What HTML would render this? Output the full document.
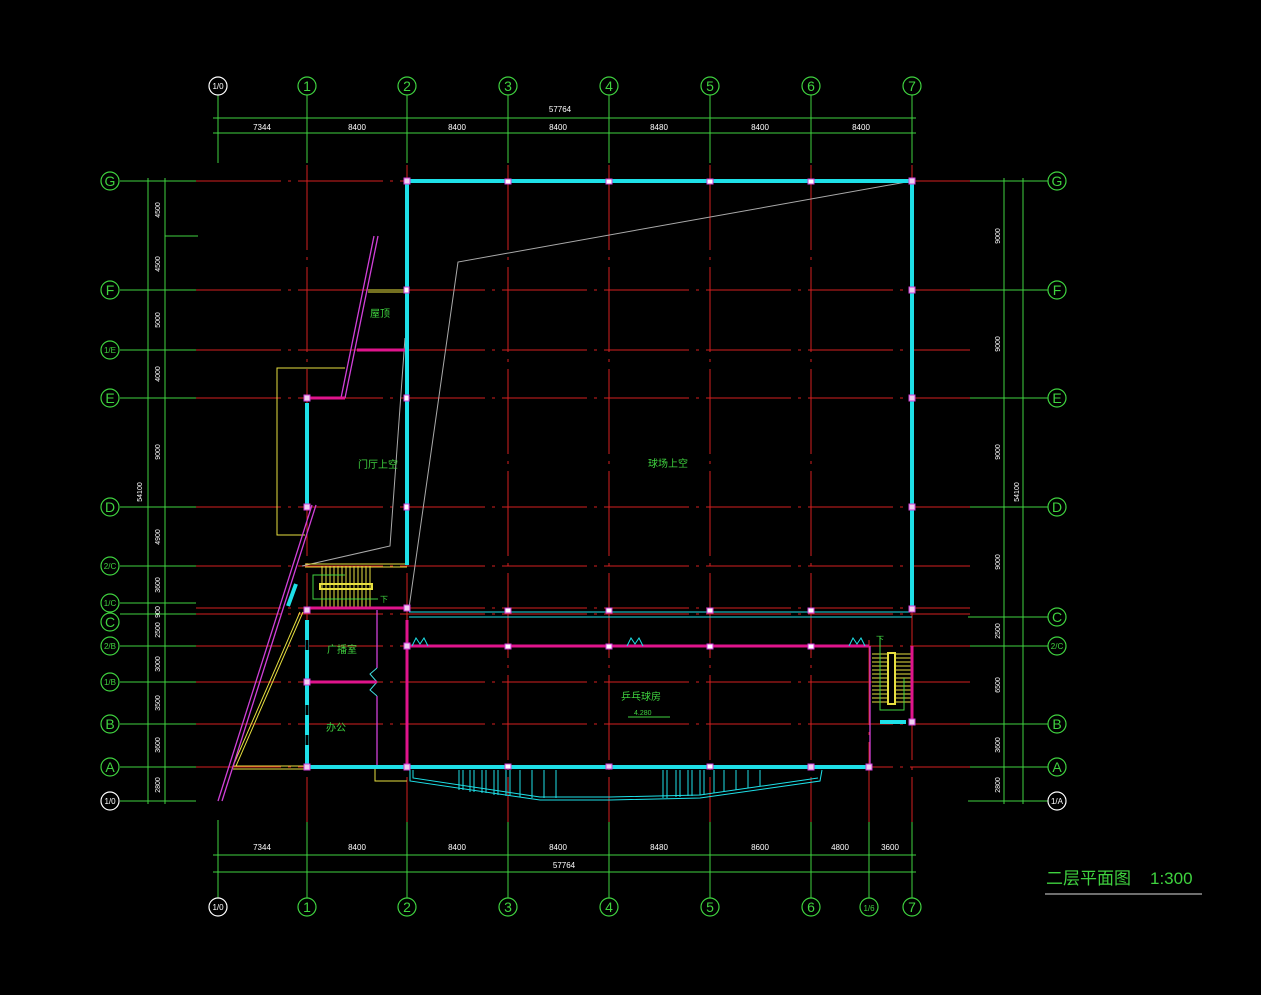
<!DOCTYPE html>
<html><head><meta charset="utf-8"><style>
html,body{margin:0;padding:0;background:#000;}
svg{display:block}
text{font-family:"Liberation Sans","Noto Sans CJK SC",sans-serif;}
</style></head><body>
<svg width="1261" height="995" viewBox="0 0 1261 995" xmlns="http://www.w3.org/2000/svg">
<rect width="1261" height="995" fill="#000"/>
<g stroke="#3fd23f" stroke-width="1">
<line x1="218" y1="95" x2="218" y2="163"/><line x1="307" y1="95" x2="307" y2="163"/><line x1="407" y1="95" x2="407" y2="163"/><line x1="508" y1="95" x2="508" y2="163"/><line x1="609" y1="95" x2="609" y2="163"/><line x1="710" y1="95" x2="710" y2="163"/><line x1="811" y1="95" x2="811" y2="163"/><line x1="912" y1="95" x2="912" y2="163"/>
<line x1="218" y1="820" x2="218" y2="898"/><line x1="307" y1="820" x2="307" y2="898"/><line x1="407" y1="820" x2="407" y2="898"/><line x1="508" y1="820" x2="508" y2="898"/><line x1="609" y1="820" x2="609" y2="898"/><line x1="710" y1="820" x2="710" y2="898"/><line x1="811" y1="820" x2="811" y2="898"/><line x1="869" y1="820" x2="869" y2="898"/><line x1="912" y1="820" x2="912" y2="898"/>
<line x1="213" y1="118" x2="916" y2="118"/><line x1="213" y1="133" x2="916" y2="133"/>
<line x1="213" y1="855" x2="916" y2="855"/><line x1="213" y1="872" x2="916" y2="872"/>
<line x1="120" y1="181" x2="196" y2="181"/><line x1="120" y1="290" x2="196" y2="290"/><line x1="120" y1="350" x2="196" y2="350"/><line x1="120" y1="398" x2="196" y2="398"/><line x1="120" y1="507" x2="196" y2="507"/><line x1="120" y1="566" x2="196" y2="566"/><line x1="120" y1="603" x2="196" y2="603"/><line x1="120" y1="614" x2="196" y2="614"/><line x1="120" y1="646" x2="196" y2="646"/><line x1="120" y1="682" x2="196" y2="682"/><line x1="120" y1="724" x2="196" y2="724"/><line x1="120" y1="767" x2="196" y2="767"/><line x1="120" y1="801" x2="196" y2="801"/>
<line x1="148" y1="178" x2="148" y2="804"/><line x1="165" y1="178" x2="165" y2="804"/><line x1="165" y1="236" x2="198" y2="236"/>
<line x1="968" y1="181" x2="1048" y2="181"/><line x1="968" y1="290" x2="1048" y2="290"/><line x1="968" y1="398" x2="1048" y2="398"/><line x1="968" y1="507" x2="1048" y2="507"/><line x1="968" y1="617" x2="1048" y2="617"/><line x1="968" y1="646" x2="1048" y2="646"/><line x1="968" y1="724" x2="1048" y2="724"/><line x1="968" y1="767" x2="1048" y2="767"/><line x1="968" y1="801" x2="1048" y2="801"/>
<line x1="1004" y1="178" x2="1004" y2="804"/><line x1="1023" y1="178" x2="1023" y2="804"/>
</g>
<g stroke="#d42020" stroke-width="1" stroke-dasharray="85,7,3,7">
<line x1="307" y1="165" x2="307" y2="822"/><line x1="407" y1="165" x2="407" y2="822"/><line x1="508" y1="165" x2="508" y2="822"/><line x1="609" y1="165" x2="609" y2="822"/><line x1="710" y1="165" x2="710" y2="822"/><line x1="811" y1="165" x2="811" y2="822"/><line x1="912" y1="165" x2="912" y2="822"/><line x1="869" y1="640" x2="869" y2="822"/>
<line x1="196" y1="181" x2="970" y2="181"/><line x1="196" y1="290" x2="970" y2="290"/><line x1="196" y1="350" x2="970" y2="350"/><line x1="196" y1="398" x2="970" y2="398"/><line x1="196" y1="507" x2="970" y2="507"/><line x1="196" y1="566" x2="970" y2="566"/><line x1="196" y1="608" x2="970" y2="608"/><line x1="196" y1="614" x2="970" y2="614"/><line x1="196" y1="646" x2="970" y2="646"/><line x1="196" y1="682" x2="970" y2="682"/><line x1="196" y1="724" x2="970" y2="724"/><line x1="196" y1="767" x2="970" y2="767"/>
</g>
<g fill="#000" stroke="#3fd23f" stroke-width="1.2">
<circle cx="307" cy="86" r="9"/><circle cx="407" cy="86" r="9"/><circle cx="508" cy="86" r="9"/><circle cx="609" cy="86" r="9"/><circle cx="710" cy="86" r="9"/><circle cx="811" cy="86" r="9"/><circle cx="912" cy="86" r="9"/>
<circle cx="307" cy="907" r="9"/><circle cx="407" cy="907" r="9"/><circle cx="508" cy="907" r="9"/><circle cx="609" cy="907" r="9"/><circle cx="710" cy="907" r="9"/><circle cx="811" cy="907" r="9"/><circle cx="869" cy="907" r="9"/><circle cx="912" cy="907" r="9"/>
<circle cx="110" cy="181" r="9"/><circle cx="110" cy="290" r="9"/><circle cx="110" cy="350" r="9"/><circle cx="110" cy="398" r="9"/><circle cx="110" cy="507" r="9"/><circle cx="110" cy="566" r="9"/><circle cx="110" cy="603" r="9"/><circle cx="110" cy="622" r="9"/><circle cx="110" cy="646" r="9"/><circle cx="110" cy="682" r="9"/><circle cx="110" cy="724" r="9"/><circle cx="110" cy="767" r="9"/>
<circle cx="1057" cy="181" r="9"/><circle cx="1057" cy="290" r="9"/><circle cx="1057" cy="398" r="9"/><circle cx="1057" cy="507" r="9"/><circle cx="1057" cy="617" r="9"/><circle cx="1057" cy="646" r="9"/><circle cx="1057" cy="724" r="9"/><circle cx="1057" cy="767" r="9"/>
</g>
<g fill="#000" stroke="#fff" stroke-width="1.2">
<circle cx="218" cy="86" r="9"/><circle cx="218" cy="907" r="9"/><circle cx="110" cy="801" r="9"/><circle cx="1057" cy="801" r="9"/>
</g>
<g fill="#3fd23f" font-size="14" text-anchor="middle">
<text x="307" y="91">1</text><text x="407" y="91">2</text><text x="508" y="91">3</text><text x="609" y="91">4</text><text x="710" y="91">5</text><text x="811" y="91">6</text><text x="912" y="91">7</text>
<text x="307" y="912">1</text><text x="407" y="912">2</text><text x="508" y="912">3</text><text x="609" y="912">4</text><text x="710" y="912">5</text><text x="811" y="912">6</text><text x="912" y="912">7</text><text x="869" y="911" font-size="8">1/6</text>
<text x="110" y="186">G</text><text x="110" y="295">F</text><text x="110" y="353" font-size="8">1/E</text><text x="110" y="403">E</text><text x="110" y="512">D</text><text x="110" y="569" font-size="8">2/C</text><text x="110" y="606" font-size="8">1/C</text><text x="110" y="627">C</text><text x="110" y="649" font-size="8">2/B</text><text x="110" y="685" font-size="8">1/B</text><text x="110" y="729">B</text><text x="110" y="772">A</text>
<text x="1057" y="186">G</text><text x="1057" y="295">F</text><text x="1057" y="403">E</text><text x="1057" y="512">D</text><text x="1057" y="622">C</text><text x="1057" y="649" font-size="8">2/C</text><text x="1057" y="729">B</text><text x="1057" y="772">A</text>
</g>
<g fill="#fff" font-size="8" text-anchor="middle">
<text x="218" y="89">1/0</text><text x="218" y="910">1/0</text><text x="110" y="804">1/0</text><text x="1057" y="804">1/A</text>
<text x="560" y="112">57764</text><text x="262" y="130">7344</text><text x="357" y="130">8400</text><text x="457" y="130">8400</text><text x="558" y="130">8400</text><text x="659" y="130">8480</text><text x="760" y="130">8400</text><text x="861" y="130">8400</text>
<text x="262" y="850">7344</text><text x="357" y="850">8400</text><text x="457" y="850">8400</text><text x="558" y="850">8400</text><text x="659" y="850">8480</text><text x="760" y="850">8600</text><text x="840" y="850">4800</text><text x="890" y="850">3600</text><text x="564" y="868">57764</text>
</g>
<g fill="#fff" font-size="7" text-anchor="middle">
<text transform="translate(160,210) rotate(-90)">4500</text><text transform="translate(160,264) rotate(-90)">4500</text><text transform="translate(160,320) rotate(-90)">5000</text><text transform="translate(160,374) rotate(-90)">4000</text><text transform="translate(160,452) rotate(-90)">9000</text><text transform="translate(160,537) rotate(-90)">4900</text><text transform="translate(160,585) rotate(-90)">3600</text><text transform="translate(160,612) rotate(-90)">900</text><text transform="translate(160,630) rotate(-90)">2500</text><text transform="translate(160,664) rotate(-90)">3000</text><text transform="translate(160,703) rotate(-90)">3500</text><text transform="translate(160,745) rotate(-90)">3600</text><text transform="translate(160,785) rotate(-90)">2800</text><text transform="translate(142,492) rotate(-90)">54100</text>
<text transform="translate(1000,236) rotate(-90)">9000</text><text transform="translate(1000,344) rotate(-90)">9000</text><text transform="translate(1000,452) rotate(-90)">9000</text><text transform="translate(1000,562) rotate(-90)">9000</text><text transform="translate(1000,631) rotate(-90)">2500</text><text transform="translate(1000,685) rotate(-90)">6500</text><text transform="translate(1000,745) rotate(-90)">3600</text><text transform="translate(1000,785) rotate(-90)">2800</text><text transform="translate(1019,492) rotate(-90)">54100</text>
</g>
<polyline points="912,181 458,262 409,608" fill="none" stroke="#aaa" stroke-width="1"/>
<polyline points="405,338 390,546 302,566" fill="none" stroke="#aaa" stroke-width="1"/>
<g fill="none" stroke="#e8e040" stroke-width="1">
<polyline points="345,368 277,368 277,535 305,535"/>
<line x1="368" y1="290" x2="407" y2="290"/><line x1="368" y1="292" x2="407" y2="292"/>
<line x1="305" y1="564" x2="407" y2="564"/><line x1="305" y1="567" x2="407" y2="567"/>
<line x1="300" y1="612" x2="233" y2="766"/><line x1="303" y1="612" x2="236" y2="766"/>
<line x1="233" y1="766" x2="307" y2="766"/><line x1="233" y1="769" x2="307" y2="769"/>
<polyline points="375,767 375,781 407,781"/>
</g>
<g stroke="#e8e040" stroke-width="1">
<line x1="322" y1="566" x2="322" y2="607"/><line x1="326" y1="566" x2="326" y2="607"/><line x1="330" y1="566" x2="330" y2="607"/><line x1="334" y1="566" x2="334" y2="607"/><line x1="338" y1="566" x2="338" y2="607"/><line x1="342" y1="566" x2="342" y2="607"/><line x1="346" y1="566" x2="346" y2="607"/><line x1="350" y1="566" x2="350" y2="607"/><line x1="354" y1="566" x2="354" y2="607"/><line x1="358" y1="566" x2="358" y2="607"/><line x1="362" y1="566" x2="362" y2="607"/><line x1="366" y1="566" x2="366" y2="607"/><line x1="370" y1="566" x2="370" y2="607"/>
</g>
<rect x="320" y="584" width="52" height="5" fill="none" stroke="#e8e040" stroke-width="2"/>
<polyline points="345,575 313,575 313,599 378,599" fill="none" stroke="#3fd23f" stroke-width="1"/>
<text x="380" y="602" fill="#3fd23f" font-size="8">下</text>
<g stroke="#e8e040" stroke-width="1">
<line x1="872" y1="654" x2="912" y2="654"/><line x1="872" y1="658" x2="912" y2="658"/><line x1="872" y1="662" x2="912" y2="662"/><line x1="872" y1="666" x2="912" y2="666"/><line x1="872" y1="670" x2="912" y2="670"/><line x1="872" y1="674" x2="912" y2="674"/><line x1="872" y1="678" x2="912" y2="678"/><line x1="872" y1="682" x2="912" y2="682"/><line x1="872" y1="686" x2="912" y2="686"/><line x1="872" y1="690" x2="912" y2="690"/><line x1="872" y1="694" x2="912" y2="694"/><line x1="872" y1="698" x2="912" y2="698"/><line x1="872" y1="702" x2="912" y2="702"/>
</g>
<rect x="888" y="653" width="7" height="51" fill="#000" stroke="#e8e040" stroke-width="2"/>
<polyline points="880,636 880,710 904,710 904,678" fill="none" stroke="#3fd23f" stroke-width="1"/>
<text x="876" y="642" fill="#3fd23f" font-size="8">下</text>
<g fill="none" stroke="#d040d8" stroke-width="1.3">
<line x1="378" y1="236" x2="345" y2="398"/><line x1="374" y1="236" x2="341" y2="398"/>
<line x1="316" y1="505" x2="222" y2="801"/><line x1="312" y1="505" x2="218" y2="801"/>
<line x1="377" y1="610" x2="377" y2="668"/><line x1="377" y1="696" x2="377" y2="767"/>
<line x1="870" y1="646" x2="870" y2="767"/>
</g>
<polyline points="377,668 370,674 377,682 370,690 377,696" fill="none" stroke="#40e0e0" stroke-width="1"/>
<g stroke="#e0148c" stroke-width="3">
<line x1="307" y1="398" x2="345" y2="398"/><line x1="357" y1="350" x2="407" y2="350"/>
<line x1="307" y1="608" x2="407" y2="608"/><line x1="307" y1="682" x2="377" y2="682"/>
<line x1="407" y1="646" x2="869" y2="646"/><line x1="407" y1="620" x2="407" y2="767"/>
<line x1="912" y1="646" x2="912" y2="722"/>
</g>
<g fill="none" stroke="#1ee0e8" stroke-width="4">
<polyline points="407,565 407,181 912,181 912,612"/>
<line x1="307" y1="403" x2="307" y2="505"/>
<line x1="307" y1="620" x2="307" y2="767"/>
<line x1="307" y1="767" x2="407" y2="767"/>
<line x1="407" y1="767" x2="869" y2="767"/>
<line x1="880" y1="722" x2="906" y2="722"/>
<line x1="288" y1="606" x2="296" y2="584"/>
</g>
<g stroke="#1ee0e8" stroke-width="1">
<line x1="409" y1="612" x2="912" y2="612"/><line x1="409" y1="617" x2="912" y2="617"/>
</g>
<g stroke="#000" stroke-width="3">
<line x1="307" y1="640" x2="307" y2="650"/><line x1="307" y1="705" x2="307" y2="715"/><line x1="307" y1="735" x2="307" y2="745"/>
</g>
<g fill="#f0d0f0" stroke="#d040d8" stroke-width="1">
<rect x="404" y="178" width="6" height="6"/><rect x="505" y="179" width="6" height="5" fill="#fff"/><rect x="606" y="179" width="6" height="5" fill="#fff"/><rect x="707" y="179" width="6" height="5" fill="#fff"/><rect x="808" y="179" width="6" height="5" fill="#fff"/><rect x="909" y="178" width="6" height="6"/>
<rect x="909" y="287" width="6" height="6"/><rect x="909" y="395" width="6" height="6"/><rect x="909" y="504" width="6" height="6"/><rect x="909" y="606" width="6" height="6"/>
<rect x="404" y="605" width="6" height="6"/><rect x="505" y="608" width="6" height="5" fill="#fff"/><rect x="606" y="608" width="6" height="5" fill="#fff"/><rect x="707" y="608" width="6" height="5" fill="#fff"/><rect x="808" y="608" width="6" height="5" fill="#fff"/>
<rect x="404" y="643" width="6" height="6"/><rect x="505" y="644" width="6" height="5" fill="#fff"/><rect x="606" y="644" width="6" height="5" fill="#fff"/><rect x="707" y="644" width="6" height="5" fill="#fff"/><rect x="808" y="644" width="6" height="5" fill="#fff"/>
<rect x="404" y="764" width="6" height="6"/><rect x="505" y="764" width="6" height="5" fill="#fff"/><rect x="606" y="764" width="6" height="5"/><rect x="707" y="764" width="6" height="5" fill="#fff"/><rect x="808" y="764" width="6" height="6"/><rect x="866" y="764" width="6" height="6"/><rect x="909" y="719" width="6" height="6"/>
<rect x="304" y="395" width="6" height="6"/><rect x="304" y="504" width="6" height="6"/><rect x="304" y="607" width="6" height="6"/><rect x="304" y="679" width="6" height="6"/><rect x="304" y="764" width="6" height="6"/>
<rect x="404" y="395" width="5" height="6" fill="#fff"/><rect x="404" y="504" width="5" height="6" fill="#fff"/><rect x="404" y="287" width="5" height="6" fill="#fff"/>
</g>
<g fill="none" stroke="#1ee0e8" stroke-width="1">
<polyline points="412,646 416,638 420,644 424,638 428,646"/>
<polyline points="627,646 631,638 635,644 639,638 643,646"/>
<polyline points="849,646 853,638 857,644 861,638 865,646"/>
<path d="M410,770 L410,781 L540,800 L610,800 L700,798 L820,781 L822,770"/>
<path d="M413,770 L413,778 L540,797 L610,797 L700,795 L818,778"/>
<line x1="459" y1="770" x2="459" y2="790"/><line x1="463" y1="770" x2="463" y2="790"/><line x1="470" y1="770" x2="470" y2="792"/><line x1="474" y1="770" x2="474" y2="792"/><line x1="482" y1="770" x2="482" y2="793"/><line x1="486" y1="770" x2="486" y2="793"/><line x1="494" y1="770" x2="494" y2="795"/><line x1="498" y1="770" x2="498" y2="795"/><line x1="506" y1="770" x2="506" y2="796"/><line x1="510" y1="770" x2="510" y2="796"/><line x1="520" y1="770" x2="520" y2="797"/><line x1="532" y1="770" x2="532" y2="798"/><line x1="544" y1="770" x2="544" y2="798"/><line x1="556" y1="770" x2="556" y2="798"/>
<line x1="663" y1="770" x2="663" y2="798"/><line x1="667" y1="770" x2="667" y2="798"/><line x1="676" y1="770" x2="676" y2="797"/><line x1="680" y1="770" x2="680" y2="797"/><line x1="688" y1="770" x2="688" y2="796"/><line x1="692" y1="770" x2="692" y2="796"/><line x1="700" y1="770" x2="700" y2="795"/><line x1="704" y1="770" x2="704" y2="795"/><line x1="714" y1="770" x2="714" y2="793"/><line x1="724" y1="770" x2="724" y2="792"/><line x1="736" y1="770" x2="736" y2="790"/><line x1="748" y1="770" x2="748" y2="788"/><line x1="760" y1="770" x2="760" y2="786"/>
</g>
<g fill="#3fd23f" font-size="10">
<text x="370" y="317">屋顶</text><text x="358" y="468">门厅上空</text><text x="648" y="467">球场上空</text><text x="327" y="653">广播室</text><text x="326" y="731">办公</text><text x="621" y="700">乒乓球房</text>
<text x="634" y="715" font-size="7">4.280</text>
</g>
<polyline points="628,717 670,717 M630,717 635,724 640,717" fill="none" stroke="#3fd23f" stroke-width="1"/>
<text x="1046" y="884" fill="#3fd23f" font-size="17">二层平面图</text>
<text x="1150" y="884" fill="#3fd23f" font-size="17">1:300</text>
<line x1="1045" y1="894" x2="1202" y2="894" stroke="#ddd" stroke-width="1"/>
</svg>
</body></html>
